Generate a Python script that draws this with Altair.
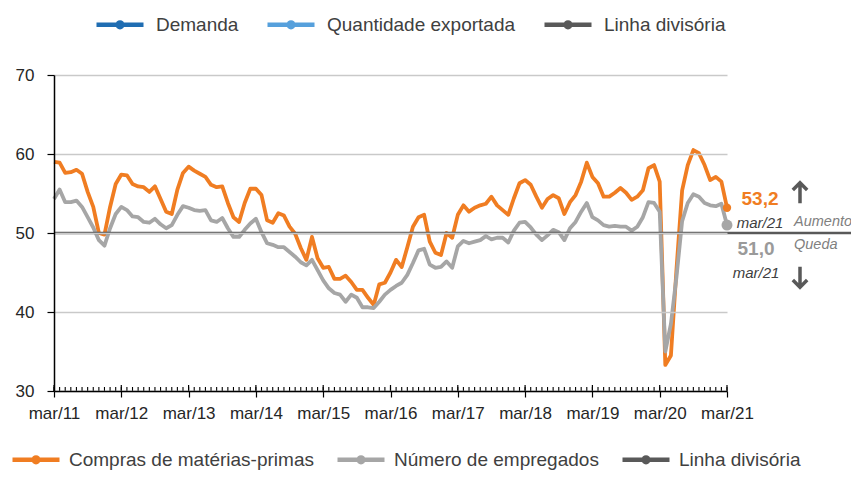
import altair as alt
import pandas as pd

# ---------------- data ----------------
rotulos_x = ["mar/11", "mar/12", "mar/13", "mar/14", "mar/15", "mar/16",
             "mar/17", "mar/18", "mar/19", "mar/20", "mar/21"]
ticks_y = [30, 40, 50, 60, 70]

compras = [
    59.0, 58.9, 57.6, 57.7, 58.0, 57.5, 55.2, 53.3, 50.0, 49.8,
    53.3, 56.2, 57.4, 57.3, 56.2, 55.9, 55.8, 55.2, 55.9, 54.3,
    52.7, 52.4, 55.5, 57.6, 58.4, 57.9, 57.5, 57.1, 56.1, 55.8,
    55.9, 53.8, 52.0, 51.4, 53.8, 55.6, 55.6, 54.8, 51.6, 51.3,
    52.5, 52.2, 50.8, 49.9, 48.1, 46.6, 49.5, 46.8, 45.6, 45.7,
    44.2, 44.2, 44.6, 43.8, 42.8, 42.8, 41.8, 40.9, 43.5, 43.7,
    45.0, 46.6, 45.7, 48.2, 50.8, 52.0, 52.3, 48.9, 47.5, 47.2,
    50.0, 49.4, 52.3, 53.5, 52.7, 53.2, 53.5, 53.7, 54.6, 53.5,
    52.9, 52.3, 54.4, 56.3, 56.7, 56.1, 54.6, 53.2, 54.3, 54.8,
    54.4, 52.4, 53.9, 54.8, 56.5, 58.9, 57.1, 56.3, 54.6, 54.6,
    55.1, 55.7, 55.1, 54.2, 54.6, 55.4, 58.2, 58.6, 56.5, 33.3,
    34.5, 45.5, 55.4, 58.6, 60.5, 60.1, 58.6, 56.7, 57.1, 56.5,
    53.2,
]
empregados = [
    54.3, 55.5, 53.9, 53.9, 54.1, 53.3, 52.0, 50.7, 49.1, 48.4,
    50.6, 52.4, 53.3, 52.9, 52.1, 52.0, 51.4, 51.3, 51.8, 51.1,
    50.6, 51.0, 52.3, 53.4, 53.2, 52.9, 52.8, 52.9, 51.6, 51.4,
    51.9, 50.6, 49.5, 49.5, 50.4, 51.2, 51.8, 50.1, 48.7, 48.5,
    48.2, 48.2, 47.6, 47.0, 46.3, 45.9, 46.6, 45.3, 44.0, 43.0,
    42.4, 42.2, 41.3, 42.2, 41.8, 40.6, 40.6, 40.5, 41.3, 42.2,
    42.8, 43.3, 43.7, 44.7, 46.2, 47.8, 48.0, 46.0, 45.6, 45.7,
    46.4, 45.6, 48.3, 49.0, 48.7, 48.9, 49.1, 49.6, 49.2, 49.4,
    49.4, 48.8, 50.3, 51.3, 51.4, 50.7, 49.8, 49.1, 49.7, 50.4,
    50.1, 49.1, 50.6, 51.4, 52.7, 53.8, 52.0, 51.6, 51.0, 50.8,
    50.9, 50.8, 50.8, 50.3, 50.8, 52.0, 53.9, 53.8, 52.7, 35.0,
    38.5, 44.5, 51.5, 53.8, 54.9, 54.6, 53.8, 53.5, 53.4, 53.7,
    51.0,
]

series = ["Compras de matérias-primas", "Número de empregados", "Linha divisória"]
cores = ["#F07D22", "#A6A6A6", "#595959"]
series_topo = ["Demanda", "Quantidade exportada", "Linha divisória"]
cores_topo = ["#1F6DB2", "#56A0DC", "#595959"]
valor_divisoria = 50
rotulo_final = "mar/21"
texto_aumento = "Aumento"
texto_queda = "Queda"

# ---------------- layout ----------------
W, H = 673, 316
FONT = "Liberation Sans, Arial, sans-serif"
n = len(compras)
meses = list(range(n))
anos_idx = meses[::12]

df = pd.DataFrame({
    "mes": meses + meses,
    "valor": compras + empregados,
    "serie": [series[0]] * n + [series[1]] * n,
})

label_expr = "[" + ",".join(f"'{r}'" for r in rotulos_x) + "][round(datum.value/12)]"

X = alt.X("mes:Q",
          scale=alt.Scale(domain=[0, n - 1], nice=False, zero=False),
          axis=alt.Axis(values=anos_idx, labelExpr=label_expr, title=None, grid=False,
                        domainColor="#000000", domainWidth=1.5, tickColor="#000000",
                        tickWidth=1.2, tickSize=6, labelPadding=8, labelFont=FONT,
                        labelFontSize=17, labelColor="#262626", labelFlush=False, zindex=1))
Y = alt.Y("valor:Q",
          scale=alt.Scale(domain=[ticks_y[0], ticks_y[-1]], nice=False, zero=False),
          axis=alt.Axis(values=ticks_y, title=None, grid=True, gridColor="#C9C9C9",
                        gridWidth=1.5, domainColor="#000000", domainWidth=1.5,
                        tickColor="#000000", tickWidth=1.2, tickSize=7, labelPadding=13,
                        labelFont=FONT, labelFontSize=17, labelColor="#262626", zindex=1))

SYM = "M-1,0L1,0M-0.1,0A0.1,0.1,0,1,1,0.1,0A0.1,0.1,0,1,1,-0.1,0"


def legenda(x, y, pad, off):
    return alt.Legend(orient="none", legendX=x, legendY=y, direction="horizontal",
                      title=None, symbolType=SYM, symbolSize=2209, symbolStrokeWidth=4.5,
                      labelFont=FONT, labelFontSize=19, labelColor="#404040",
                      labelOffset=off, columnPadding=pad, padding=0, labelLimit=400)


COLOR = alt.Color("serie:N", scale=alt.Scale(domain=series, range=cores),
                  legend=legenda(-44, 358.5, 14, 7))

base = alt.Chart(df)
linha_compras = base.transform_filter(alt.datum.serie == series[0]).mark_line(
    strokeWidth=3.8, strokeJoin="round").encode(x=X, y=Y, color=COLOR)
linha_emp = base.transform_filter(alt.datum.serie == series[1]).mark_line(
    strokeWidth=3.8, strokeJoin="round").encode(x=X, y=Y, color=COLOR)
divisoria = alt.Chart(alt.Data(values=[{"serie": series[2], "valor": valor_divisoria}])).mark_rule(
    strokeWidth=2.5).encode(y=Y, x=alt.value(0), x2=alt.value(W + 130), color=COLOR)

grupo = alt.layer(linha_compras, linha_emp, divisoria)

# top legend (series not drawn in this panel)
topo = alt.Chart(alt.Data(values=[{"mes": 0, "valor": None, "grupo": g} for g in series_topo])).mark_line(
    strokeWidth=3.8).encode(
    x=X, y=Y,
    color=alt.Color("grupo:N", scale=alt.Scale(domain=series_topo, range=cores_topo),
                    legend=legenda(40, -76.5, 19, 10)))

# monthly ticks pointing up from x axis
ticks_df = pd.DataFrame({"mes": meses})
ticks_menores = alt.Chart(ticks_df).mark_rule(color="#000000", strokeWidth=1.1).encode(
    x=X, y=alt.value(H), y2=alt.value(H - 4))
ticks_maiores = alt.Chart(ticks_df).transform_filter("datum.mes % 12 == 0").mark_rule(
    color="#000000", strokeWidth=1.2).encode(x=X, y=alt.value(H), y2=alt.value(H - 6))

# end points
fim = pd.DataFrame({"mes": [n - 1, n - 1], "valor": [compras[-1], empregados[-1]],
                    "serie": series[:2]})
ponto_c = alt.Chart(fim.iloc[[0]]).mark_circle(size=70, opacity=1, color=cores[0]).encode(x=X, y=Y)
ponto_e = alt.Chart(fim.iloc[[1]]).mark_circle(size=120, opacity=1, color=cores[1]).encode(x=X, y=Y)


def fmt(v):
    return f"{v:.1f}".replace(".", ",")


def texto(t, valor, dx, dy, size, color, weight="normal", style="normal", align="center"):
    d = alt.Data(values=[{"mes": n - 1, "valor": valor, "t": t}])
    return alt.Chart(d).mark_text(dx=dx, dy=dy, align=align, baseline="middle", font=FONT,
                                  fontSize=size, fontWeight=weight, fontStyle=style,
                                  color=color).encode(x=X, y=Y, text="t:N")


anot = [
    texto(fmt(compras[-1]), compras[-1], 33, -9, 19, cores[0], weight="bold"),
    texto(rotulo_final, compras[-1], 33, 15, 15, "#404040", style="italic"),
    texto(fmt(empregados[-1]), empregados[-1], 29, 24, 19, "#9A9A9A", weight="bold"),
    texto(rotulo_final, empregados[-1], 29, 48, 15, "#404040", style="italic"),
    texto(texto_aumento, valor_divisoria, 67, -11, 14.5, "#808080", style="italic", align="left"),
    texto(texto_queda, valor_divisoria, 67, 12, 14.5, "#808080", style="italic", align="left"),
]

seta_d = alt.Data(values=[{"mes": n - 1, "valor": valor_divisoria}])
seta_cima = alt.Chart(seta_d).mark_point(
    shape="M0,1L0,-0.95M-0.7,-0.3L0,-1L0.7,-0.3", size=420, filled=False, strokeWidth=3.5,
    color="#595959", opacity=1, xOffset=73, yOffset=-40).encode(x=X, y=Y)
seta_baixo = alt.Chart(seta_d).mark_point(
    shape="M0,-1L0,0.95M-0.7,0.3L0,1L0.7,0.3", size=420, filled=False, strokeWidth=3.5,
    color="#595959", opacity=1, xOffset=73, yOffset=44).encode(x=X, y=Y)

chart = alt.layer(
    topo, ticks_menores, ticks_maiores, grupo, ponto_c, ponto_e, seta_cima, seta_baixo, *anot
).resolve_scale(color="independent").properties(
    width=W, height=H,
    autosize=alt.AutoSizeParams(type="none"),
    padding={"left": 46, "top": 67, "right": 124, "bottom": 80},
    background="#FFFFFF",
).configure_view(strokeOpacity=0)

chart.save("out.html", embed_options={"renderer": "svg", "actions": False})
